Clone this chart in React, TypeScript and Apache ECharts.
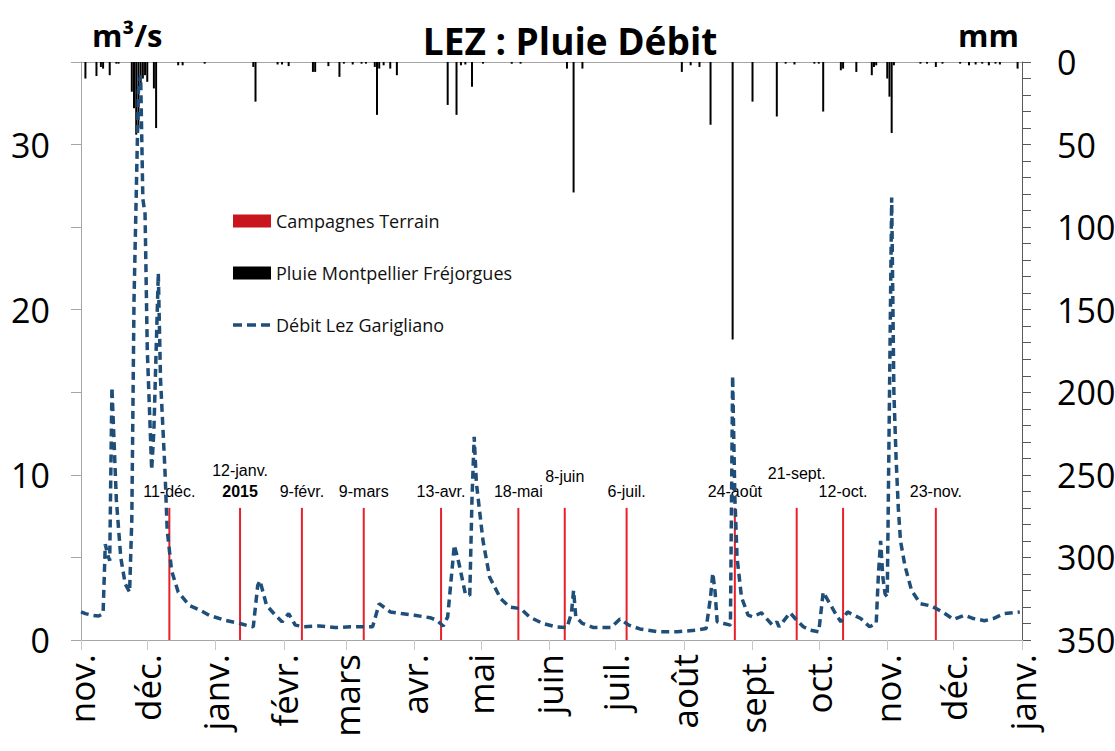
import React, { useEffect, useRef } from 'react';
import * as echarts from 'echarts';

// ---- Data ----
const flowDates = [
  '2014-11-01', '2014-11-03', '2014-11-06', '2014-11-09', '2014-11-11', '2014-11-12', '2014-11-13', '2014-11-14',
  '2014-11-15', '2014-11-17', '2014-11-19', '2014-11-21', '2014-11-23', '2014-11-24', '2014-11-25', '2014-11-27',
  '2014-11-28', '2014-11-29', '2014-11-30', '2014-12-01', '2014-12-03', '2014-12-04', '2014-12-06', '2014-12-07',
  '2014-12-09', '2014-12-10', '2014-12-12', '2014-12-15', '2014-12-20', '2014-12-25', '2014-12-29', '2015-01-05',
  '2015-01-12', '2015-01-16', '2015-01-18', '2015-01-20', '2015-01-21', '2015-01-24', '2015-01-28', '2015-01-31',
  '2015-02-03', '2015-02-06', '2015-02-10', '2015-02-17', '2015-02-24', '2015-03-03', '2015-03-13', '2015-03-16',
  '2015-03-21', '2015-03-26', '2015-04-01', '2015-04-08', '2015-04-11', '2015-04-14', '2015-04-16', '2015-04-19',
  '2015-04-21', '2015-04-24', '2015-04-26', '2015-04-27', '2015-04-28', '2015-04-29', '2015-05-02', '2015-05-05',
  '2015-05-10', '2015-05-14', '2015-05-19', '2015-05-23', '2015-05-29', '2015-06-04', '2015-06-09', '2015-06-11',
  '2015-06-12', '2015-06-13', '2015-06-16', '2015-06-21', '2015-06-29', '2015-07-03', '2015-07-07', '2015-07-12',
  '2015-07-20', '2015-07-29', '2015-08-07', '2015-08-11', '2015-08-13', '2015-08-14', '2015-08-15', '2015-08-16',
  '2015-08-19', '2015-08-22', '2015-08-23', '2015-08-24', '2015-08-25', '2015-08-27', '2015-08-30', '2015-09-01',
  '2015-09-05', '2015-09-08', '2015-09-10', '2015-09-12', '2015-09-13', '2015-09-18', '2015-09-21', '2015-09-24',
  '2015-09-27', '2015-10-01', '2015-10-03', '2015-10-06', '2015-10-09', '2015-10-11', '2015-10-14', '2015-10-20',
  '2015-10-24', '2015-10-27', '2015-10-28', '2015-10-29', '2015-10-30', '2015-10-31', '2015-11-01', '2015-11-03',
  '2015-11-04', '2015-11-05', '2015-11-06', '2015-11-07', '2015-11-09', '2015-11-12', '2015-11-16', '2015-11-21',
  '2015-11-26', '2015-12-01', '2015-12-06', '2015-12-10', '2015-12-15', '2015-12-19', '2015-12-24', '2015-12-31',
];
const flowValues = [
  1.7, 1.6, 1.5, 1.45, 1.6, 5.8, 5.2, 4.8,
  15.3, 8.5, 5.0, 3.4, 2.9, 7.3, 20.6, 33.3,
  34.2, 26.7, 25.8, 17.6, 10.3, 12.7, 22.2, 15.8,
  10.3, 6.7, 4.2, 2.9, 2.1, 1.8, 1.5, 1.2,
  1.0, 0.85, 0.8, 3.3, 3.6, 2.1, 1.5, 1.1,
  1.6, 0.9, 0.8, 0.85, 0.75, 0.8, 0.8, 2.2,
  1.7, 1.6, 1.5, 1.35, 1.2, 0.85, 1.4, 5.75,
  4.7, 2.8, 2.7, 8.5, 12.3, 9.5, 6.0, 3.8,
  2.5, 2.0, 1.9, 1.4, 1.0, 0.8, 0.75, 1.6,
  3.0, 1.4, 1.0, 0.75, 0.75, 1.27, 0.9, 0.67,
  0.5, 0.5, 0.6, 0.7, 2.6, 4.05, 3.0, 1.1,
  1.0, 0.9, 16.0, 8.7, 5.0, 2.6, 1.5, 1.4,
  1.65, 1.2, 0.9, 1.1, 0.8, 1.65, 1.2, 0.8,
  0.6, 0.5, 2.9, 2.2, 1.5, 1.1, 1.7, 1.3,
  0.8, 1.0, 4.0, 6.0, 3.8, 2.8, 2.6, 26.8,
  15, 11, 8, 6, 4.5, 3.0, 2.2, 2.06,
  1.7, 1.25, 1.5, 1.3, 1.17, 1.3, 1.6, 1.7,
];

const rainDates = [
  '2014-11-03', '2014-11-08', '2014-11-10', '2014-11-11', '2014-11-14', '2014-11-17', '2014-11-18', '2014-11-24',
  '2014-11-25', '2014-11-26', '2014-11-27', '2014-11-28', '2014-11-29', '2014-11-30', '2014-12-01', '2014-12-04',
  '2014-12-05', '2014-12-15', '2014-12-17', '2014-12-27', '2015-01-18', '2015-01-19', '2015-01-29', '2015-01-31',
  '2015-02-03', '2015-02-14', '2015-02-15', '2015-02-21', '2015-02-26', '2015-02-28', '2015-03-04', '2015-03-08',
  '2015-03-10', '2015-03-14', '2015-03-15', '2015-03-16', '2015-03-18', '2015-03-21', '2015-03-24', '2015-04-16',
  '2015-04-20', '2015-04-22', '2015-04-24', '2015-04-27', '2015-05-02', '2015-05-15', '2015-05-19', '2015-06-09',
  '2015-06-12', '2015-06-16', '2015-07-31', '2015-08-04', '2015-08-08', '2015-08-13', '2015-08-23', '2015-09-01',
  '2015-09-12', '2015-09-16', '2015-09-20', '2015-09-29', '2015-10-01', '2015-10-03', '2015-10-11', '2015-10-12',
  '2015-10-18', '2015-10-25', '2015-10-26', '2015-10-27', '2015-11-01', '2015-11-02', '2015-11-03', '2015-11-04',
  '2015-11-16', '2015-11-19', '2015-11-23', '2015-11-26', '2015-12-04', '2015-12-08', '2015-12-11', '2015-12-14',
  '2015-12-17', '2015-12-20', '2015-12-22', '2015-12-30',
];
const rainValues = [
  10, 8.5, 3, 4, 8, 1, 1, 18,
  28, 44, 40, 15, 10, 8, 12, 16,
  40, 2, 2, 1, 3, 24, 1.5, 1.5,
  2.5, 6, 6, 2.5, 9, 1, 1.5, 1,
  1, 3, 32, 4, 2, 4, 8, 26,
  32, 2, 1.5, 15, 1, 1, 1, 4,
  79, 4, 6, 2, 3, 38, 168, 24,
  33, 1, 1.5, 1, 1, 30, 5, 4,
  6, 8, 3, 2, 10, 21, 43, 2,
  1, 1, 3, 1, 1, 2, 1.5, 1,
  2, 1, 1.5, 4,
];

const campaignDates = [
  '2014-12-11', '2015-01-12', '2015-02-09', '2015-03-09', '2015-04-13', '2015-05-18',
  '2015-06-08', '2015-07-06', '2015-08-24', '2015-09-21', '2015-10-12', '2015-11-23',
];
const campaignLabels = [
  '11-déc.', '12-janv.', '9-févr.', '9-mars', '13-avr.', '18-mai',
  '8-juin', '6-juil.', '24-août', '21-sept.', '12-oct.', '23-nov.',
];
const campaignHeight = 8;

const monthTicks = [
  '2014-11-01', '2014-12-01', '2015-01-01', '2015-02-01', '2015-03-01', '2015-04-01', '2015-05-01', '2015-06-01',
  '2015-07-01', '2015-08-01', '2015-09-01', '2015-10-01', '2015-11-01', '2015-12-01', '2016-01-01',
];
const monthLabels = [
  'nov.', 'déc.', 'janv.', 'févr.', 'mars', 'avr.', 'mai', 'juin',
  'juil.', 'août', 'sept.', 'oct.', 'nov.', 'déc.', 'janv.',
];

// ---- helpers ----
const ORIGIN = Date.UTC(2014, 10, 1);
function dayOf(s: string): number {
  const [y, m, d] = s.split('-').map(Number);
  return Math.round((Date.UTC(y, m - 1, d) - ORIGIN) / 86400000);
}

const FONT = '"Open Sans", "Noto Sans", sans-serif';
const ARIAL = '"Liberation Sans", Arial, sans-serif';
// three dashes inside a 38x13 box (tiny corner dots fix the box size)
const DASH_ICON =
  'path://M0,0h0.01v0.01h-0.01z M0,4.75h9v3.5h-9z M14,4.75h9v3.5h-9z M28,4.75h9v3.5h-9z M37.99,12.99h0.01v0.01h-0.01z';

function buildOption() {
  const tickValues = monthTicks.map(dayOf);
  const xMin = tickValues[0];
  const xMax = tickValues[tickValues.length - 1];
  const raised: Record<string, number> = { '8-juin': 22, '21-sept.': 25 };

  const campaignData = campaignDates.map((d, i) => {
    const name = campaignLabels[i];
    const item: any = { value: [dayOf(d), campaignHeight] };
    if (name === '12-janv.') {
      item.label = { formatter: '12-janv.\n{b|2015}', lineHeight: 21, distance: 6 };
    } else if (raised[name]) {
      item.label = { distance: raised[name] };
    }
    return item;
  });

  return {
    animation: false,
    backgroundColor: '#ffffff',
    textStyle: { fontFamily: FONT },
    title: {
      text: 'LEZ : Pluie Débit',
      left: 565,
      top: 17,
      textAlign: 'center',
      textStyle: { fontSize: 37, fontWeight: 'bold', color: '#000', fontFamily: FONT },
    },
    graphic: [
      {
        type: 'text', left: 92, top: 19,
        style: { text: 'm³/s', fontSize: 31, fontWeight: 'bold', fill: '#000', fontFamily: FONT },
      },
      {
        type: 'text', left: 958, top: 19,
        style: { text: 'mm', fontSize: 31, fontWeight: 'bold', fill: '#000', fontFamily: FONT },
      },
    ],
    legend: {
      orient: 'vertical',
      left: 233,
      top: 211,
      padding: 0,
      itemWidth: 38,
      itemHeight: 13,
      itemGap: 32,
      selectedMode: false,
      textStyle: { fontSize: 18, color: '#111', fontFamily: FONT, lineHeight: 20 },
      data: [
        { name: 'Campagnes Terrain', icon: 'rect', itemStyle: { color: '#c9161d' } },
        { name: 'Pluie Montpellier Fréjorgues', icon: 'rect' },
        { name: 'Débit Lez Garigliano', icon: DASH_ICON, itemStyle: { color: '#1f4e79' } },
      ],
    },
    grid: { left: 81, right: 93, top: 62, bottom: 111, containLabel: false, outerBoundsMode: 'none' },
    xAxis: [
      {
        type: 'value',
        min: xMin,
        max: xMax,
        position: 'bottom',
        axisLine: { show: true, onZero: false, lineStyle: { color: '#a6a6a6', width: 1 } },
        axisTick: { show: true, length: 10, lineStyle: { color: '#c8c8c8' }, customValues: tickValues },
        axisLabel: {
          rotate: 90,
          margin: 14,
          fontSize: 35,
          color: '#000',
          fontFamily: FONT,
          customValues: tickValues,
          showMinLabel: true,
          showMaxLabel: true,
          formatter: (v: number) => {
            const idx = tickValues.indexOf(Math.round(v));
            return idx >= 0 ? monthLabels[idx] : '';
          },
        },
        splitLine: { show: false },
      },
      {
        type: 'value',
        min: xMin,
        max: xMax,
        position: 'top',
        axisLine: { show: true, onZero: false, lineStyle: { color: '#a6a6a6', width: 1 } },
        axisTick: { show: false },
        axisLabel: { show: false },
        splitLine: { show: false },
      },
    ],
    yAxis: [
      {
        type: 'value',
        min: 0,
        max: 35,
        interval: 5,
        position: 'left',
        axisLine: { show: true, onZero: false, lineStyle: { color: '#a6a6a6' } },
        axisTick: { show: true, length: 10, lineStyle: { color: '#a6a6a6' } },
        axisLabel: {
          fontSize: 34, color: '#000', margin: 31, fontFamily: FONT,
          formatter: (v: number) => (v % 10 === 0 ? String(v) : ''),
        },
        splitLine: { show: false },
      },
      {
        type: 'value',
        min: 0,
        max: 350,
        interval: 10,
        inverse: true,
        position: 'right',
        axisLine: { show: true, onZero: false, lineStyle: { color: '#595959' } },
        axisTick: { show: true, length: 9, lineStyle: { color: '#595959' } },
        axisLabel: {
          fontSize: 34, color: '#000', margin: 35, fontFamily: FONT,
          formatter: (v: number) => (v % 50 === 0 ? String(v) : ''),
        },
        splitLine: { show: false },
      },
    ],
    series: [
      {
        name: 'Campagnes Terrain',
        type: 'bar',
        xAxisIndex: 0,
        yAxisIndex: 0,
        barWidth: 2,
        itemStyle: { color: '#e8202a' },
        z: 2,
        label: {
          show: true,
          position: 'top',
          distance: 7,
          fontSize: 16,
          lineHeight: 18,
          fontFamily: ARIAL,
          color: '#000',
          formatter: (p: any) => campaignLabels[p.dataIndex],
          rich: { b: { fontSize: 16, fontWeight: 'bold', fontFamily: ARIAL, color: '#000', lineHeight: 21 } },
        },
        data: campaignData,
      },
      {
        name: 'Pluie Montpellier Fréjorgues',
        type: 'bar',
        xAxisIndex: 1,
        yAxisIndex: 1,
        barWidth: 2,
        itemStyle: { color: '#000' },
        z: 3,
        data: rainDates.map((d, i) => [dayOf(d), rainValues[i]]),
      },
      {
        name: 'Débit Lez Garigliano',
        type: 'line',
        xAxisIndex: 0,
        yAxisIndex: 0,
        symbol: 'none',
        showSymbol: false,
        z: 5,
        itemStyle: { color: '#1f4e79' },
        lineStyle: { color: '#1f4e79', width: 3.5, type: [8, 5], cap: 'butt' },
        data: flowDates.map((d, i) => [dayOf(d), flowValues[i]]),
      },
    ],
  };
}

export default function App() {
  const ref = useRef<HTMLDivElement>(null);
  useEffect(() => {
    if (!ref.current) return;
    const chart = echarts.init(ref.current, undefined, { renderer: 'svg' });
    chart.setOption(buildOption() as any);
    return () => chart.dispose();
  }, []);
  return (
    <div
      ref={ref}
      style={{ position: 'absolute', left: 0, top: 0, width: 1115, height: 751, background: '#fff' }}
    />
  );
}
